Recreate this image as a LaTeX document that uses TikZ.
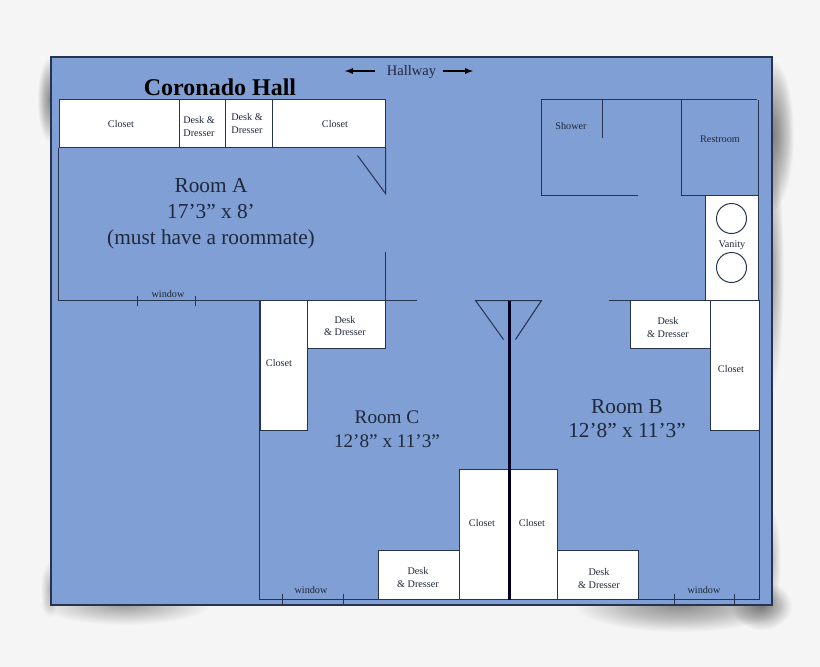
\documentclass[tikz,border=0pt]{standalone}
\usepackage{fontspec}
\setmainfont{Liberation Serif}
\definecolor{sheet}{HTML}{7F9FD5}
\definecolor{paper}{HTML}{F5F5F5}
\definecolor{wallc}{HTML}{26344F}
\definecolor{inkc}{HTML}{20283A}
\tikzset{
 wall/.style={draw=wallc,line width=1pt},
 thickwall/.style={draw=black!85!blue,line width=2.6pt},
 box/.style={draw=wallc,line width=1pt,fill=white},
 small/.style={text=inkc,font=\fontsize{10.2}{12.8}\selectfont,align=center,inner sep=0pt},
 big/.style={text=inkc,font=\fontsize{21.3}{25.8}\selectfont,align=center,inner sep=0pt},
 bigb/.style={text=inkc,font=\fontsize{21.3}{24}\selectfont,align=center,inner sep=0pt},
 bigc/.style={text=inkc,font=\fontsize{19.2}{24}\selectfont,align=center,inner sep=0pt},
}
\newcommand{\blob}[5]{\foreach \k in {1,...,30}{\fill[black,opacity=#5] (#1,#2) ellipse ({#3*\k/30} and {#4*\k/30});}}
\begin{document}
\begin{tikzpicture}[x=1pt,y=-1pt]
\useasboundingbox (0,0) rectangle (820,667);
\fill[paper] (0,0) rectangle (820,667);
% shadows
\begin{scope}
\clip (0,60) rectangle (820,667);
\blob{50}{100}{12}{42}{.014}
\blob{50}{590}{9}{28}{.008}
\blob{772}{135}{22}{75}{.018}
\blob{772}{270}{12}{120}{.010}
\blob{772}{560}{9}{50}{.008}
\blob{125}{605}{85}{20}{.013}
\blob{680}{605}{105}{27}{.015}
\blob{762}{606}{30}{24}{.014}
\end{scope}
% sheet
\filldraw[fill=sheet,draw=wallc,line width=1.6pt] (51,57) rectangle (772,605);
\begin{scope}[xshift=-0.5pt,yshift=0.5pt]
% Room A
\draw[wall] (59,148) -- (59,301) -- (417,301);
\draw[wall] (386,148) -- (386,194) -- (358,156);
\draw[wall] (386,252) -- (386,301);
\draw[wall] (138,296) -- (138,306) (196,296) -- (196,306);
\draw[box] (60,100) rectangle (386,148);
\draw[wall] (180,100) -- (180,148) (226,100) -- (226,148) (273,100) -- (273,148);
% Bath
\draw[wall] (638,196) -- (542,196) -- (542,100) -- (757,100);
\draw[wall] (603,100) -- (603,138);
\draw[wall] (682,100) -- (682,196) -- (759,196);
\draw[box] (706,196) rectangle (759,301);
\draw[wall] (732,219) circle (15);
\draw[wall] (732,268) circle (15);
\draw[wall] (759,100) -- (759,301);
% Rooms B and C
\draw[wall] (609,301) -- (760,301) -- (760,600) -- (260,600) -- (260,301);
\draw[wall] (260,301) -- (386,301);
\draw[wall] (283,594) -- (283,604) (344,594) -- (344,604) (675,594) -- (675,604) (735,594) -- (735,604);
\draw[box] (261,301) rectangle (308,431);
\draw[box] (308,301) rectangle (386,349);
\draw[box] (631,301) rectangle (711,349);
\draw[box] (711,301) rectangle (760,431);
\draw[box] (379,551) rectangle (460,600);
\draw[box] (558,551) rectangle (639,600);
\draw[box] (460,470) rectangle (558,600);
% doors and centre wall
\draw[wall] (504,340) -- (476,301) -- (542,301) -- (516,340);
\draw[thickwall] (510,301) -- (510,600);
\end{scope}
% hallway arrows
\node[inner sep=0pt,text=inkc,font=\fontsize{14.5}{16}\selectfont] (hall) at (411.5,72.5) {Hallway};
\coordinate (hl) at (345,71); \coordinate (hlb) at (375,71);
\coordinate (hr) at (473,71); \coordinate (hrb) at (443,71);
\draw[black,line width=1.7pt,-latex] (hlb) -- (hl);
\draw[black,line width=1.7pt,-latex] (hrb) -- (hr);
% labels
\node[inner sep=0pt,text=black,font=\bfseries\fontsize{24}{26}\selectfont] (title) at (220,87) {Coronado Hall};
\node[big] (ra) at (211,214) {Room A\\17’3” x 8’\\(must have a roommate)};
\node[bigc] (rc) at (387,429.5) {Room C\\12’8” x 11’3”};
\node[bigb] (rb) at (627,418.5) {Room B\\12’8” x 11’3”};
\node[small] (a1) at (121,124) {Closet};
\node[small] (a2) at (199,126.5) {Desk \&\\Dresser};
\node[small] (a3) at (247,123.5) {Desk \&\\Dresser};
\node[small] (a4) at (335,124) {Closet};
\node[small] (w1) at (168,294.5) {window};
\node[small] (w2) at (311,590.5) {window};
\node[small] (w3) at (704,590.5) {window};
\node[small] (s) at (571,126) {Shower};
\node[small] (r) at (720,139) {Restroom};
\node[small] (v) at (732,245.5) {Vanity};
\node[small] (c1) at (279,363) {Closet};
\node[small] (d1) at (345,326) {Desk\\\& Dresser};
\node[small] (d2) at (668,327.5) {Desk\\\& Dresser};
\node[small] (c2) at (731,369) {Closet};
\node[small] (c3) at (482,523) {Closet};
\node[small] (c4) at (532,523) {Closet};
\node[small] (d3) at (418,577.5) {Desk\\\& Dresser};
\node[small] (d4) at (599,578.5) {Desk\\\& Dresser};
\end{tikzpicture}
\end{document}
